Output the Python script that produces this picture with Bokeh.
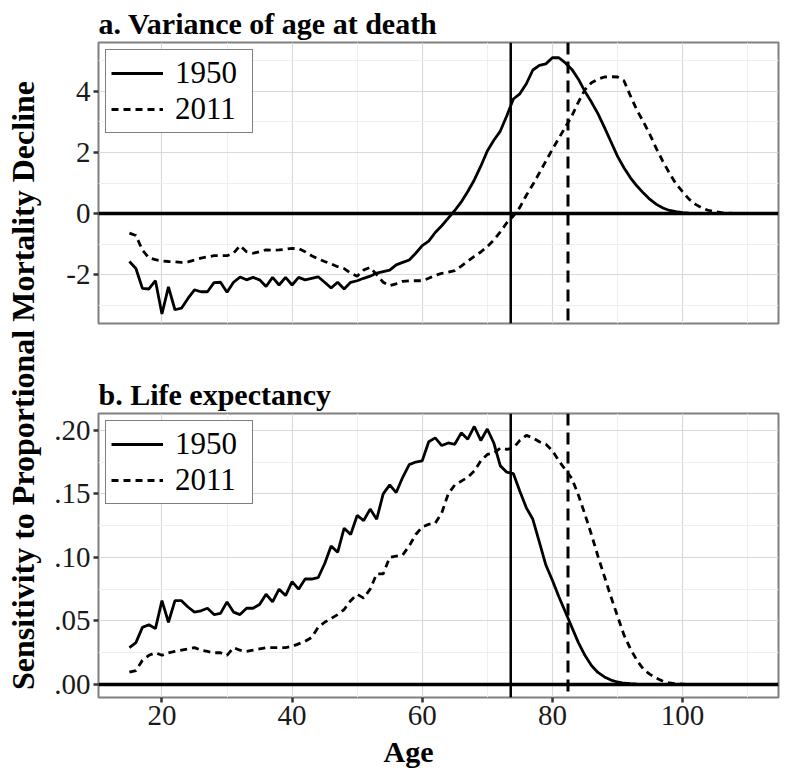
import math
from bokeh.plotting import figure
from bokeh.models import Range1d, FixedTicker, Span, Label, Legend, LegendItem, ColumnDataSource
from bokeh.layouts import row, column
from bokeh.embed import file_html
from bokeh.resources import INLINE

# ---------------- data ----------------
ages = list(range(15, 111))

var_1950 = [
    -1.57, -1.80, -2.45, -2.47, -2.20, -3.29, -2.40, -3.15, -3.10, -2.78,
    -2.50, -2.56, -2.56, -2.26, -2.25, -2.58, -2.25, -2.08, -2.17, -2.09,
    -2.17, -2.39, -2.09, -2.34, -2.09, -2.34, -2.09, -2.17, -2.12, -2.07,
    -2.25, -2.44, -2.25, -2.47, -2.25, -2.20, -2.12, -2.05, -1.95, -1.90,
    -1.85, -1.68, -1.60, -1.52, -1.30, -1.05, -0.90, -0.62, -0.40, -0.15,
    0.10, 0.38, 0.72, 1.10, 1.55, 2.05, 2.40, 2.70, 3.20, 3.75,
    3.92, 4.25, 4.70, 4.85, 4.90, 5.10, 5.10, 4.93, 4.72, 4.40,
    4.00, 3.65, 3.27, 2.82, 2.35, 1.88, 1.50, 1.17, 0.90, 0.67,
    0.46, 0.30, 0.18, 0.10, 0.06, 0.03, 0.015, 0.008, 0.004, 0.002,
    0.001, 0.0, 0.0, 0.0, 0.0, 0.0,
]

var_2011 = [
    -0.64, -0.72, -1.20, -1.45, -1.51, -1.55, -1.57, -1.58, -1.60, -1.58,
    -1.52, -1.46, -1.42, -1.38, -1.38, -1.38, -1.30, -1.05, -1.25, -1.30,
    -1.25, -1.19, -1.20, -1.19, -1.17, -1.14, -1.15, -1.25, -1.38, -1.48,
    -1.57, -1.65, -1.74, -1.80, -1.95, -2.05, -1.85, -1.76, -2.00, -2.25,
    -2.36, -2.30, -2.22, -2.20, -2.20, -2.20, -2.12, -2.02, -1.96, -1.92,
    -1.87, -1.72, -1.56, -1.40, -1.26, -1.08, -0.87, -0.60, -0.30, -0.08,
    0.20, 0.60, 0.95, 1.33, 1.72, 2.10, 2.47, 2.83, 3.20, 3.65,
    4.05, 4.28, 4.40, 4.47, 4.48, 4.47, 4.35, 3.85, 3.38, 3.00,
    2.58, 2.12, 1.70, 1.32, 0.97, 0.72, 0.47, 0.30, 0.18, 0.10,
    0.06, 0.03, 0.015, 0.007, 0.003, 0.001,
]

e0_1950 = [
    0.029, 0.033, 0.045, 0.047, 0.044, 0.066, 0.049, 0.066, 0.066, 0.061,
    0.057, 0.058, 0.060, 0.055, 0.056, 0.065, 0.057, 0.055, 0.060, 0.060,
    0.063, 0.071, 0.065, 0.075, 0.070, 0.081, 0.075, 0.083, 0.083, 0.084,
    0.095, 0.109, 0.104, 0.123, 0.118, 0.133, 0.129, 0.138, 0.130, 0.150,
    0.157, 0.151, 0.163, 0.173, 0.175, 0.176, 0.191, 0.194, 0.188, 0.190,
    0.189, 0.198, 0.193, 0.203, 0.192, 0.201, 0.190, 0.172, 0.167, 0.166,
    0.152, 0.139, 0.130, 0.112, 0.094, 0.082, 0.069, 0.057, 0.045, 0.033,
    0.023, 0.015, 0.0095, 0.006, 0.0035, 0.002, 0.001, 0.0006, 0.0003, 0.0002,
    0.0001, 0.0, 0.0, 0.0, 0.0, 0.0, 0.0, 0.0, 0.0, 0.0,
    0.0, 0.0, 0.0, 0.0, 0.0, 0.0,
]

e0_2011 = [
    0.0097, 0.011, 0.019, 0.023, 0.025, 0.023, 0.025, 0.026, 0.027, 0.028,
    0.029, 0.027, 0.026, 0.025, 0.025, 0.023, 0.029, 0.027, 0.026, 0.027,
    0.028, 0.029, 0.029, 0.029, 0.029, 0.030, 0.032, 0.034, 0.037, 0.045,
    0.049, 0.052, 0.055, 0.059, 0.066, 0.071, 0.068, 0.075, 0.087, 0.087,
    0.100, 0.101, 0.102, 0.109, 0.118, 0.124, 0.126, 0.127, 0.135, 0.150,
    0.157, 0.160, 0.163, 0.168, 0.176, 0.181, 0.182, 0.186, 0.185, 0.186,
    0.192, 0.196, 0.194, 0.191, 0.189, 0.184, 0.176, 0.169, 0.162, 0.149,
    0.134, 0.118, 0.101, 0.085, 0.069, 0.054, 0.039, 0.028, 0.019, 0.012,
    0.008, 0.005, 0.0025, 0.0012, 0.0006, 0.0003, 0.0, 0.0, 0.0, 0.0,
    0.0, 0.0, 0.0, 0.0, 0.0, 0.0,
]

e0_lines = [73.6, 82.4]          # life expectancy 1950, 2011 (vertical markers)
series_labels = ["1950", "2011"]
x_ticks = [20, 40, 60, 80, 100]
x_minor = [10, 30, 50, 70, 90, 110]
y1_ticks = [-2, 0, 2, 4]
y1_minor = [-3, -1, 1, 3, 5]
y1_tick_labels = ["-2", "0", "2", "4"]
y2_ticks = [0.0, 0.05, 0.10, 0.15, 0.20]
y2_minor = [0.025, 0.075, 0.125, 0.175]
y2_tick_labels = [".00", ".05", ".10", ".15", ".20"]
titles = ["a. Variance of age at death", "b. Life expectancy"]
x_label = "Age"
y_label = "Sensitivity to Proportional Mortality Decline"

FONT = "Liberation Serif"


def style(p, yt, ym, ylabels):
    p.outline_line_color = "#808080"
    p.outline_line_width = 2
    p.xaxis.ticker = FixedTicker(ticks=x_ticks, minor_ticks=x_minor)
    p.yaxis.ticker = FixedTicker(ticks=yt, minor_ticks=ym)
    p.yaxis.major_label_overrides = {t: l for t, l in zip(yt, ylabels)}
    for ax in p.axis:
        ax.axis_line_color = None
        ax.major_tick_line_color = "#333333"
        ax.major_tick_line_width = 2.5
        ax.major_tick_in = 0
        ax.major_tick_out = 5
        ax.minor_tick_line_color = None
        ax.major_label_text_font = FONT
        ax.major_label_text_font_size = "29px"
        ax.major_label_text_color = "#1a1a1a"
        ax.major_label_standoff = 3
    for g in (p.xgrid, p.ygrid):
        g.grid_line_color = "#d9d9d9"
        g.grid_line_width = 1.2
        g.minor_grid_line_color = "#efefef"
        g.minor_grid_line_width = 1
    p.title.text_font = FONT
    p.title.text_font_size = "30px"
    p.title.text_font_style = "bold"
    p.title.text_color = "black"
    p.title.align = "left"
    p.title.standoff = 5


def panel(p, y_a, y_b):
    src = ColumnDataSource(dict(age=ages, a=y_a, b=y_b))
    r1 = p.line("age", "a", source=src, line_color="black", line_width=2.8)
    r2 = p.line("age", "b", source=src, line_color="black", line_width=2.8,
                line_dash="7 5")
    p.add_layout(Span(location=0, dimension="width", line_color="black", line_width=3.5))
    p.add_layout(Span(location=e0_lines[0], dimension="height", line_color="black", line_width=2.5))
    p.add_layout(Span(location=e0_lines[1], dimension="height", line_color="black", line_width=3,
                      line_dash="12 7"))
    leg = Legend(items=[LegendItem(label=series_labels[0], renderers=[r1]),
                        LegendItem(label=series_labels[1], renderers=[r2])],
                 location="top_left")
    leg.margin = 7
    leg.padding = 5
    leg.spacing = 0
    leg.border_line_color = "black"
    leg.border_line_width = 1.5
    leg.background_fill_alpha = 1
    leg.label_text_font = FONT
    leg.label_text_font_size = "31px"
    leg.label_text_color = "black"
    leg.label_standoff = 12
    leg.label_width = 72
    leg.glyph_width = 52
    leg.glyph_height = 34
    leg.label_height = 34
    p.add_layout(leg, "center")


x_rng = Range1d(10.25, 114.75)

p1 = figure(width=740, height=338, x_range=x_rng, y_range=Range1d(-3.6, 5.6),
            output_backend="svg", toolbar_location=None, title=titles[0],
            min_border_left=54, min_border_right=6, min_border_top=42, min_border_bottom=15)
style(p1, y1_ticks, y1_minor, y1_tick_labels)
p1.xaxis.visible = False
panel(p1, var_1950, var_2011)

p2 = figure(width=740, height=394, x_range=x_rng, y_range=Range1d(-0.0102, 0.2132),
            output_backend="svg", toolbar_location=None, title=titles[1],
            min_border_left=54, min_border_right=6, min_border_top=75, min_border_bottom=35)
style(p2, y2_ticks, y2_minor, y2_tick_labels)
panel(p2, e0_1950, e0_2011)

# shared y-axis title (left strip)
pl = figure(width=44, height=732, x_range=Range1d(0, 44), y_range=Range1d(0, 732),
            output_backend="svg", toolbar_location=None, min_border=0)
pl.axis.visible = False
pl.grid.visible = False
pl.outline_line_color = None
pl.add_layout(Label(x=22, y=347, text=y_label, angle=math.pi / 2,
                    text_align="center", text_baseline="middle",
                    text_font=FONT, text_font_size="32px", text_font_style="bold",
                    text_color="black"))

# shared x-axis title (bottom strip)
pb = figure(width=784, height=40, x_range=Range1d(0, 784), y_range=Range1d(0, 40),
            output_backend="svg", toolbar_location=None, min_border=0)
pb.axis.visible = False
pb.grid.visible = False
pb.outline_line_color = None
pb.add_layout(Label(x=408, y=21, text=x_label,
                    text_align="center", text_baseline="middle",
                    text_font=FONT, text_font_size="30px", text_font_style="bold",
                    text_color="black"))

layout = column(row(pl, column(p1, p2)), pb)
open("out.html", "w").write(file_html(layout, INLINE))
